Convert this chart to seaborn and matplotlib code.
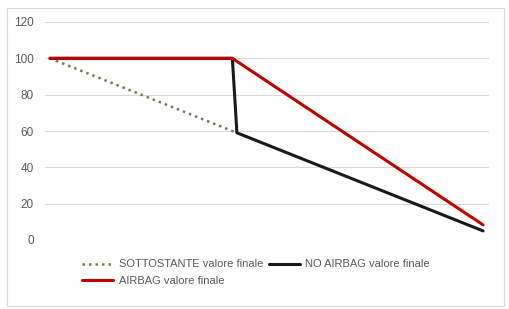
import matplotlib
matplotlib.use("Agg")
import matplotlib.pyplot as plt
from matplotlib.patches import Rectangle
import seaborn as sns
import pandas as pd

# underlying level scenarios (from 100 down to 5)
levels = [100, 99, 98, 97, 96, 95, 94, 93, 92, 91, 90, 89, 88, 87, 86, 85,
          84, 83, 82, 81, 80, 79, 78, 77, 76, 75, 74, 73, 72, 71, 70, 69,
          68, 67, 66, 65, 64, 63, 62, 61, 60, 59, 58, 57, 56, 55, 54, 53,
          52, 51, 50, 49, 48, 47, 46, 45, 44, 43, 42, 41, 40, 39, 38, 37,
          36, 35, 34, 33, 32, 31, 30, 29, 28, 27, 26, 25, 24, 23, 22, 21,
          20, 19, 18, 17, 16, 15, 14, 13, 12, 11, 10, 9, 8, 7, 6, 5]

sottostante = [100, 99, 98, 97, 96, 95, 94, 93, 92, 91, 90, 89, 88, 87, 86, 85,
               84, 83, 82, 81, 80, 79, 78, 77, 76, 75, 74, 73, 72, 71, 70, 69,
               68, 67, 66, 65, 64, 63, 62, 61, 60, 59] + [None] * 54

no_airbag = [100] * 41 + [
    59, 58, 57, 56, 55, 54, 53, 52, 51, 50, 49, 48, 47, 46, 45, 44, 43, 42,
    41, 40, 39, 38, 37, 36, 35, 34, 33, 32, 31, 30, 29, 28, 27, 26, 25, 24,
    23, 22, 21, 20, 19, 18, 17, 16, 15, 14, 13, 12, 11, 10, 9, 8, 7, 6, 5]

airbag = [100] * 41 + [
    98.3, 96.7, 95.0, 93.3, 91.7, 90.0, 88.3, 86.7, 85.0, 83.3, 81.7, 80.0,
    78.3, 76.7, 75.0, 73.3, 71.7, 70.0, 68.3, 66.7, 65.0, 63.3, 61.7, 60.0,
    58.3, 56.7, 55.0, 53.3, 51.7, 50.0, 48.3, 46.7, 45.0, 43.3, 41.7, 40.0,
    38.3, 36.7, 35.0, 33.3, 31.7, 30.0, 28.3, 26.7, 25.0, 23.3, 21.7, 20.0,
    18.3, 16.7, 15.0, 13.3, 11.7, 10.0, 8.3]

labels = ["SOTTOSTANTE valore finale", "NO AIRBAG valore finale", "AIRBAG valore finale"]
colors = ["#857650", "#1a1a1a", "#C00000"]

df = pd.DataFrame({"livello": levels, labels[0]: sottostante,
                   labels[1]: no_airbag, labels[2]: airbag}).astype(float)
df["pos"] = df.index

sns.set_style("white")
plt.rcParams["font.family"] = ["Liberation Sans", "DejaVu Sans"]

fig = plt.figure(figsize=(5.09, 3.09), dpi=100)
ax = fig.add_axes([45 / 509, 1 - 240 / 309, 444 / 509, 218 / 309])

sns.lineplot(data=df, x="pos", y=labels[0], ax=ax, color=colors[0], lw=1.8,
             linestyle=(0, (1, 1.6)), label=labels[0])
sns.lineplot(data=df, x="pos", y=labels[1], ax=ax, color=colors[1], lw=2.2,
             label=labels[1])
sns.lineplot(data=df, x="pos", y=labels[2], ax=ax, color=colors[2], lw=2.2,
             label=labels[2])

ax.set_xlim(-1.1, 96.3)
ax.set_ylim(0, 120)
ax.set_yticks(range(0, 121, 20))
ax.set_xticks([])
ax.set_xlabel("")
ax.set_ylabel("")
ax.grid(axis="y", color="#D9D9D9", lw=0.8)
ax.set_axisbelow(True)
for s in ax.spines.values():
    s.set_visible(False)
ax.tick_params(axis="y", length=0, pad=8, labelsize=8.5, labelcolor="#595959")

handles, labs = ax.get_legend_handles_labels()
ax.get_legend().remove()
order = [0, 2, 1]
fig.legend([handles[i] for i in order], [labs[i] for i in order],
           loc="upper center", bbox_to_anchor=(256 / 509, 1 - 255 / 309),
           ncol=2, frameon=False, fontsize=8, labelcolor="#595959",
           handlelength=2.8, handletextpad=0.5, columnspacing=0.5,
           labelspacing=0.55, borderaxespad=0)

fig.patches.append(Rectangle((7 / 509, 1 - 306 / 309), 497 / 509, 298 / 309,
                             transform=fig.transFigure, fill=False,
                             edgecolor="#D9D9D9", lw=0.8))

fig.savefig("out.png", dpi=100)
